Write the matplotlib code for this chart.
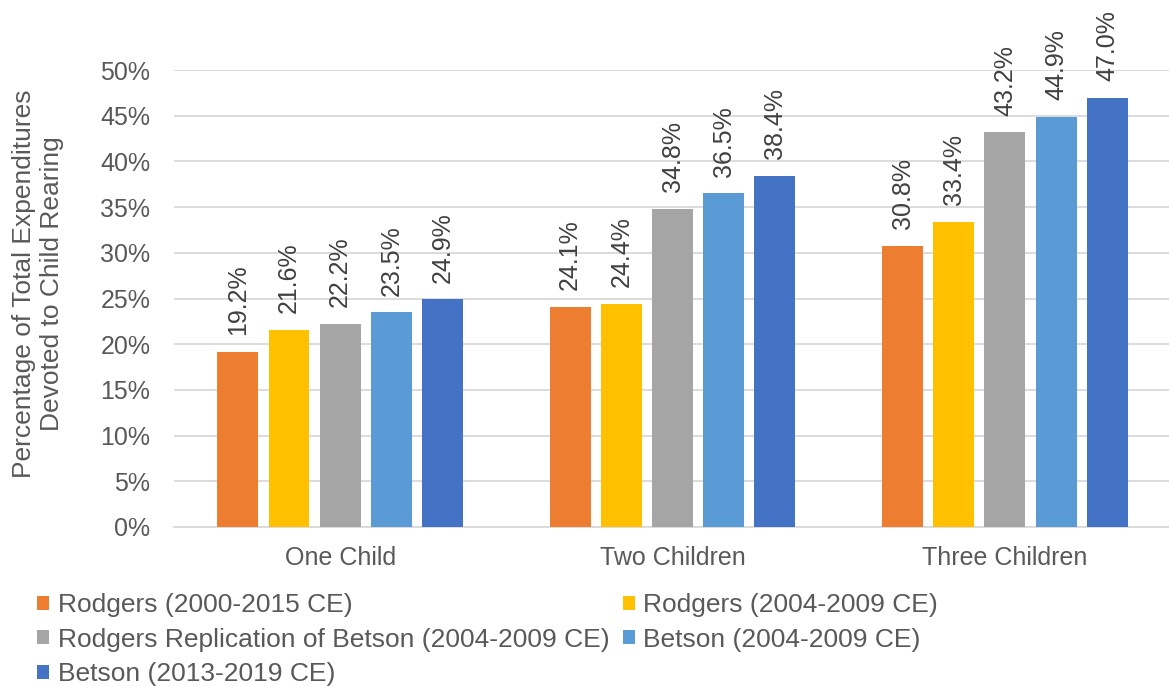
import matplotlib.pyplot as plt
from matplotlib.patches import Patch
import numpy as np

plt.rcParams['font.family'] = ['Liberation Sans', 'DejaVu Sans']

# share of total expenditures devoted to child rearing (%)
categories = ["One Child", "Two Children", "Three Children"]
series_names = [
    "Rodgers (2000-2015 CE)",
    "Rodgers (2004-2009 CE)",
    "Rodgers Replication of Betson (2004-2009 CE)",
    "Betson (2004-2009 CE)",
    "Betson (2013-2019 CE)",
]
rodgers_2000_2015 = [19.2, 24.1, 30.8]
rodgers_2004_2009 = [21.6, 24.4, 33.4]
rodgers_replication = [22.2, 34.8, 43.2]
betson_2004_2009 = [23.5, 36.5, 44.9]
betson_2013_2019 = [24.9, 38.4, 47.0]
yticks = [0, 5, 10, 15, 20, 25, 30, 35, 40, 45, 50]

series = [rodgers_2000_2015, rodgers_2004_2009, rodgers_replication,
          betson_2004_2009, betson_2013_2019]
colors = ["#ED7D31", "#FFC000", "#A5A5A5", "#5B9BD5", "#4472C4"]

fig = plt.figure(figsize=(11.69, 6.86), dpi=100)
ax = fig.add_axes([0.1488, 0.2318, 0.853, 0.666])

x = np.arange(len(categories))
step = 0.154
width = 0.123
handles = []
for i, (vals, col, name) in enumerate(zip(series, colors, series_names)):
    offs = (i - 2) * step
    bars = ax.bar(x + offs, vals, width, color=col, label=name, zorder=3)
    ax.bar_label(bars, labels=[f"{v:.1f}%" for v in vals], rotation=90,
                 padding=12, fontsize=18, color="#404040")
    handles.append(Patch(facecolor=col))

ax.set_xlim(-0.5, 2.5)
ax.set_ylim(0, 50)
ax.set_yticks(yticks)
ax.set_yticklabels([f"{t}%" for t in yticks])
ax.set_xticks(x)
ax.set_xticklabels(categories)
ax.tick_params(axis='y', length=0, pad=17, labelsize=18, labelcolor="#595959")
ax.tick_params(axis='x', length=0, pad=14, labelsize=18, labelcolor="#595959")
ax.grid(axis='y', color="#D9D9D9", linewidth=1.3, zorder=0)
for s in ["top", "right", "left"]:
    ax.spines[s].set_visible(False)
ax.spines["bottom"].set_color("#D9D9D9")
ax.spines["bottom"].set_linewidth(1.3)

fig.text(38 / 1169, 1 - 284 / 686,
         "Percentage of Total Expenditures\nDevoted to Child Rearing",
         rotation=90, ha="center", va="center", multialignment="center",
         fontsize=19, color="#595959")

# legend reads row by row in two columns
order = [0, 2, 4, 1, 3]
fig.legend([handles[i] for i in order], [series_names[i] for i in order],
           ncol=2, loc="upper left", bbox_to_anchor=(0.0226, 0.1506),
           frameon=False, fontsize=19, labelcolor="#595959",
           handlelength=0.45, handleheight=0.45, handletextpad=0.34,
           columnspacing=0.5, labelspacing=0.4, borderaxespad=0)

fig.savefig("out.png", dpi=100)
